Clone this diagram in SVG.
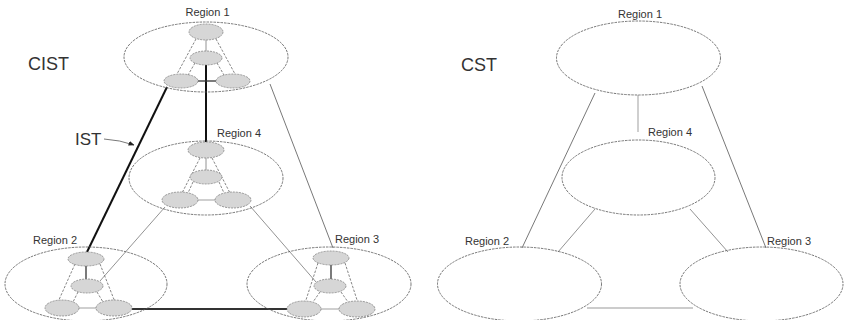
<svg xmlns="http://www.w3.org/2000/svg" width="844" height="320" viewBox="0 0 844 320">
<style>
.bg{fill:#ffffff}
.region{fill:none;stroke:#555;stroke-width:0.8;stroke-dasharray:2.5 1}
.node{fill:#d6d6d6;stroke:#777;stroke-width:0.7;stroke-dasharray:2 1}
.lbl{font-family:"Liberation Sans",Arial,sans-serif;font-size:11px;fill:#333}
.big{font-family:"Liberation Sans",Arial,sans-serif;font-size:18px;fill:#333}
.thin{stroke:#555;stroke-width:0.8;fill:none}
.mid{stroke:#777;stroke-width:0.8;fill:none}
.light{stroke:#bbb;stroke-width:1.4;fill:none}
.dash{stroke:#666;stroke-width:0.8;stroke-dasharray:2.5 1.5;fill:none}
.inner{stroke:#777;stroke-width:0.8;fill:none}
.dark{stroke:#333;stroke-width:1.3;fill:none}
.thick{stroke:#111;stroke-width:2;fill:none}
.thickg{stroke:#333;stroke-width:2;fill:none}
</style>
<defs>
<marker id="arr" viewBox="0 0 10 10" refX="9" refY="5" markerWidth="6" markerHeight="6" orient="auto" markerUnits="userSpaceOnUse">
<path d="M0,1 L10,5 L0,9 z" fill="#222"/>
</marker>
</defs>
<rect class="bg" x="0" y="0" width="844" height="320"/>

<text class="big" x="28" y="70">CIST</text>
<text class="big" x="461" y="71">CST</text>

<g id="connectors">
<!-- left diagram -->
<line class="thin" x1="270" y1="84" x2="333" y2="248"/>
<line class="mid" x1="250" y1="206" x2="316" y2="282"/>
<line class="mid" x1="165" y1="207" x2="100" y2="281"/>
<line class="thick" x1="206" y1="65" x2="206" y2="142"/>
<line class="thick" x1="167" y1="87" x2="87" y2="252"/>
<line class="thickg" x1="132" y1="309" x2="287" y2="309"/>
<path class="thin" d="M104,139 Q120,140 134,145" marker-end="url(#arr)"/>
<!-- right diagram -->
<line class="light" x1="638" y1="95" x2="638" y2="132"/>
<line class="thin" x1="595" y1="93" x2="522" y2="248"/>
<line class="thin" x1="702" y1="86" x2="766" y2="248"/>
<line class="mid" x1="595" y1="209" x2="558" y2="252"/>
<line class="mid" x1="690" y1="209" x2="728" y2="252"/>
<line class="light" x1="587" y1="308" x2="693" y2="308"/>
</g>

<text class="big" x="75" y="145" style="font-size:17px">IST</text>

<g id="cist-region1">
<ellipse class="region" cx="206" cy="57" rx="82" ry="35"/>
<text class="lbl" x="207.5" y="16" text-anchor="middle">Region 1</text>
<line class="inner" x1="206" y1="40" x2="206" y2="51"/>
<line class="dash" x1="196" y1="39" x2="177" y2="74"/>
<line class="dash" x1="216" y1="39" x2="235" y2="74"/>
<line class="dash" x1="195" y1="63" x2="188" y2="75"/>
<line class="dash" x1="217" y1="63" x2="224" y2="75"/>
<line class="dark" x1="198" y1="81" x2="216" y2="81"/>
<ellipse class="node" cx="206" cy="32" rx="17" ry="8"/>
<ellipse class="node" cx="206" cy="58" rx="16" ry="7"/>
<ellipse class="node" cx="181" cy="81" rx="17" ry="7"/>
<ellipse class="node" cx="233" cy="81" rx="17" ry="7"/>
</g>

<g id="cist-region4">
<ellipse class="region" cx="206" cy="178" rx="77" ry="37"/>
<text class="lbl" x="217" y="137">Region 4</text>
<line class="inner" x1="206" y1="158" x2="206" y2="170"/>
<line class="dash" x1="200" y1="158" x2="182" y2="193"/>
<line class="dash" x1="212" y1="158" x2="230" y2="193"/>
<line class="dash" x1="193" y1="182" x2="188" y2="193"/>
<line class="dash" x1="219" y1="182" x2="224" y2="193"/>
<line class="light" x1="197" y1="200" x2="216" y2="200"/>
<ellipse class="node" cx="206" cy="150" rx="18" ry="8"/>
<ellipse class="node" cx="206" cy="177" rx="16" ry="7"/>
<ellipse class="node" cx="180" cy="200" rx="18" ry="8"/>
<ellipse class="node" cx="233" cy="200" rx="18" ry="8"/>
</g>

<g id="cist-region2">
<ellipse class="region" cx="86" cy="284" rx="81" ry="37"/>
<text class="lbl" x="33" y="244">Region 2</text>
<line class="dark" x1="86" y1="266" x2="86" y2="279"/>
<line class="dash" x1="75" y1="264" x2="58" y2="302"/>
<line class="dash" x1="100" y1="264" x2="115" y2="302"/>
<line class="dash" x1="78" y1="292" x2="73" y2="302"/>
<line class="dash" x1="97" y1="292" x2="103" y2="302"/>
<line class="light" x1="79" y1="308" x2="96" y2="308"/>
<ellipse class="node" cx="86" cy="259" rx="18" ry="7"/>
<ellipse class="node" cx="87" cy="286" rx="16" ry="7"/>
<ellipse class="node" cx="62" cy="308" rx="17" ry="8"/>
<ellipse class="node" cx="114" cy="308" rx="18" ry="8"/>
</g>

<g id="cist-region3">
<ellipse class="region" cx="329" cy="284" rx="82" ry="37"/>
<text class="lbl" x="335" y="243">Region 3</text>
<line class="dark" x1="331" y1="265" x2="331" y2="279"/>
<line class="dash" x1="318" y1="263" x2="305" y2="303"/>
<line class="dash" x1="345" y1="263" x2="358" y2="303"/>
<line class="dash" x1="320" y1="292" x2="313" y2="302"/>
<line class="dash" x1="341" y1="292" x2="348" y2="302"/>
<line class="light" x1="321" y1="309" x2="339" y2="309"/>
<ellipse class="node" cx="331" cy="258" rx="18" ry="7"/>
<ellipse class="node" cx="330" cy="286" rx="16" ry="7"/>
<ellipse class="node" cx="304" cy="309" rx="17" ry="8"/>
<ellipse class="node" cx="357" cy="309" rx="18" ry="8"/>
</g>

<g id="cst-region1">
<ellipse class="region" cx="638.5" cy="58" rx="82" ry="37"/>
<text class="lbl" x="640" y="18" text-anchor="middle">Region 1</text>
</g>
<g id="cst-region4">
<ellipse class="region" cx="638.5" cy="177.5" rx="76.5" ry="37.5"/>
<text class="lbl" x="648" y="136">Region 4</text>
</g>
<g id="cst-region2">
<ellipse class="region" cx="519.5" cy="284" rx="82" ry="37"/>
<text class="lbl" x="465" y="245">Region 2</text>
</g>
<g id="cst-region3">
<ellipse class="region" cx="761.5" cy="284" rx="81.5" ry="37"/>
<text class="lbl" x="767" y="245">Region 3</text>
</g>
</svg>
